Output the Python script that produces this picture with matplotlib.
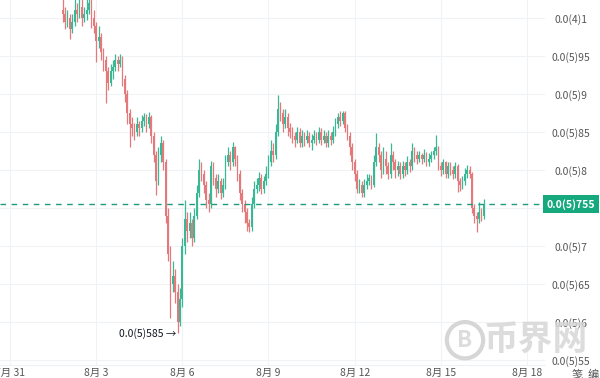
import numpy as np
import pandas as pd
import matplotlib
matplotlib.use('Agg')
import matplotlib.pyplot as plt
import matplotlib.dates as mdates

plt.rcParams['font.family'] = ['Noto Sans CJK SC', 'DejaVu Sans']

# 2-hour candles, values in units of 1e-6
start = '2024-08-01 20:00'
closes = [
    10.05, 9.95, 10.0, 9.85, 9.95, 10.1, 10.05, 10.15, 10.0, 10.05,
    10.1, 10.2, 10.0, 9.9, 9.7, 9.75, 9.55, 9.45, 9.3, 9.15,
    9.3, 9.35, 9.45, 9.4, 9.45, 9.2, 9.0, 8.75, 8.6, 8.55,
    8.5, 8.6, 8.55, 8.65, 8.7, 8.6, 8.7, 8.45, 8.2, 7.85,
    8.2, 8.35, 8.1, 7.4, 6.9, 6.5, 6.6, 6.4, 6.0, 6.3,
    7.0, 7.35, 7.2, 7.3, 7.1, 7.4, 7.7, 8.0, 7.95, 7.8,
    7.6, 7.55, 8.05, 7.9, 7.75, 7.85, 7.7, 7.8, 8.1, 8.2,
    8.1, 8.3, 8.15, 7.95, 7.7, 7.55, 7.45, 7.3, 7.25, 7.55,
    7.75, 7.8, 7.9, 7.75, 7.85, 7.95, 8.1, 8.25, 8.2, 8.5,
    8.8, 8.75, 8.6, 8.7, 8.55, 8.5, 8.45, 8.4, 8.5, 8.35,
    8.45, 8.4, 8.45, 8.35, 8.4, 8.45, 8.4, 8.5, 8.4, 8.45,
    8.35, 8.45, 8.4, 8.5, 8.6, 8.7, 8.65, 8.75, 8.55, 8.45,
    8.3, 8.1, 7.95, 7.75, 7.8, 7.7, 7.8, 7.85, 7.9, 7.8,
    8.1, 8.3, 8.2, 8.0, 8.15, 8.05, 7.95, 8.2, 8.1, 8.0,
    8.05, 7.95, 8.05, 8.0, 8.1, 8.05, 8.25, 8.2, 8.15, 8.2,
    8.15, 8.2, 8.1, 8.15, 8.2, 8.25, 8.3, 8.05, 8.0, 8.1,
    7.95, 8.05, 8.0, 7.95, 8.05, 7.85, 7.8, 7.85, 7.95, 8.0,
    7.95, 7.5, 7.4, 7.35, 7.45, 7.4, 7.55,
]
first_open = 10.1
highs = [
    10.3, 10.15, 10.1, 10.05, 10.05, 10.25, 10.2, 10.3, 10.25, 10.15,
    10.3, 10.35, 10.3, 10.1, 9.95, 9.9, 9.8, 9.6, 9.5, 9.35,
    9.4, 9.45, 9.52, 9.5, 9.52, 9.5, 9.25, 9.05, 8.8, 8.7,
    8.62, 8.7, 8.65, 8.72, 8.75, 8.74, 8.76, 8.72, 8.5, 8.25,
    8.3, 8.45, 8.4, 8.15, 7.5, 7.0, 6.8, 6.7, 6.5, 6.45,
    7.1, 7.6, 7.45, 7.45, 7.35, 7.5, 7.8, 8.15, 8.1, 8.0,
    7.85, 7.7, 8.12, 8.1, 7.95, 7.95, 7.9, 7.9, 8.2, 8.3,
    8.25, 8.37, 8.32, 8.2, 8.0, 7.75, 7.6, 7.5, 7.35, 7.65,
    7.85, 7.9, 7.98, 7.95, 7.92, 8.05, 8.2, 8.4, 8.35, 8.6,
    8.99, 8.9, 8.8, 8.8, 8.75, 8.62, 8.57, 8.5, 8.57, 8.55,
    8.52, 8.5, 8.52, 8.5, 8.47, 8.52, 8.5, 8.56, 8.55, 8.52,
    8.5, 8.52, 8.5, 8.58, 8.68, 8.75, 8.77, 8.78, 8.77, 8.6,
    8.5, 8.35, 8.15, 8.0, 7.88, 7.85, 7.88, 7.95, 7.95, 7.93,
    8.2, 8.49, 8.35, 8.25, 8.3, 8.25, 8.1, 8.35, 8.25, 8.15,
    8.12, 8.1, 8.12, 8.1, 8.18, 8.15, 8.35, 8.3, 8.25, 8.25,
    8.22, 8.27, 8.24, 8.22, 8.25, 8.3, 8.46, 8.32, 8.1, 8.15,
    8.12, 8.1, 8.1, 8.05, 8.1, 8.08, 7.9, 7.92, 8.02, 8.07,
    8.05, 7.97, 7.55, 7.45, 7.58, 7.5, 7.62,
]
lows = [
    9.95, 9.85, 9.88, 9.72, 9.8, 9.9, 9.95, 10.0, 9.9, 9.95,
    9.98, 10.05, 9.87, 9.8, 9.42, 9.6, 9.45, 9.3, 8.88, 9.05,
    9.1, 9.2, 9.3, 9.3, 9.35, 9.1, 8.9, 8.6, 8.3, 8.45,
    8.4, 8.45, 8.45, 8.5, 8.58, 8.5, 8.55, 8.35, 8.1, 7.67,
    7.8, 8.1, 8.0, 7.3, 6.8, 6.05, 6.4, 6.25, 5.85, 5.95,
    6.2, 6.9, 7.05, 7.1, 7.0, 7.05, 7.35, 7.65, 7.85, 7.7,
    7.5, 7.45, 7.5, 7.8, 7.65, 7.7, 7.62, 7.65, 7.75, 8.05,
    8.0, 8.05, 8.05, 7.85, 7.6, 7.45, 7.3, 7.2, 7.18, 7.2,
    7.5, 7.7, 7.72, 7.68, 7.7, 7.8, 7.9, 8.05, 8.1, 8.15,
    8.45, 8.65, 8.5, 8.55, 8.45, 8.42, 8.35, 8.3, 8.35, 8.3,
    8.3, 8.32, 8.35, 8.3, 8.26, 8.35, 8.33, 8.35, 8.33, 8.35,
    8.3, 8.3, 8.33, 8.35, 8.45, 8.55, 8.58, 8.6, 8.5, 8.4,
    8.2, 8.0, 7.85, 7.7, 7.7, 7.64, 7.65, 7.75, 7.8, 7.75,
    7.78, 8.05, 8.1, 7.9, 7.95, 7.95, 7.88, 7.9, 8.0, 7.9,
    7.92, 7.88, 7.9, 7.92, 7.95, 7.98, 8.0, 8.1, 8.08, 8.1,
    8.08, 8.1, 8.05, 8.05, 8.1, 8.15, 8.2, 8.0, 7.92, 7.95,
    7.9, 7.9, 7.93, 7.88, 7.9, 7.71, 7.72, 7.75, 7.8, 7.9,
    7.9, 7.43, 7.3, 7.18, 7.3, 7.33, 7.35,
]
tick_dates = ['2024-07-31', '2024-08-03', '2024-08-06', '2024-08-09',
              '2024-08-12', '2024-08-15', '2024-08-18']
tick_labels = ['7月 31', '8月 3', '8月 6', '8月 9', '8月 12', '8月 15', '8月 18']
y_ticks = [5.5, 6.0, 6.5, 7.0, 7.5, 8.0, 8.5, 9.0, 9.5, 10.0]
# the 7.5 label sits under the last-price box
y_labels = ['0.0(5)55', '0.0(5)6', '0.0(5)65', '0.0(5)7', '',
            '0.0(5)8', '0.0(5)85', '0.0(5)9', '0.0(5)95', '0.0(4)1']
last_price = 7.55
last_label = '0.0(5)755'
min_label = '0.0(5)585'

up_color = '#38b894'
down_color = '#e5787b'

times = pd.date_range(start, periods=len(closes), freq='2h')
x = mdates.date2num(times)
closes = np.array(closes)
opens = np.concatenate([[first_open], closes[:-1]])
highs = np.array(highs)
lows = np.array(lows)
up = closes >= opens
colors = np.where(up, up_color, down_color)

fig = plt.figure(figsize=(6, 3.78), dpi=100)
ax = fig.add_axes([0, 1 - 365 / 378, 545 / 600, 365 / 378])

day0 = mdates.date2num(pd.Timestamp('2024-07-31'))
ax.set_xlim(day0 - 10 / 28.72, day0 + 535 / 28.72)
ax.set_ylim(10 - 347 / 76, 10 + 18 / 76)

# candles
w = 0.7 / 12
ax.vlines(x, lows, highs, colors=colors, linewidth=0.9, zorder=2)
body = np.maximum(np.abs(closes - opens), 0.02)
ax.bar(x, body, bottom=np.minimum(opens, closes), width=w, color=colors,
       linewidth=0, zorder=3)

# axes and grid
ax.set_xticks(mdates.date2num(pd.to_datetime(tick_dates)))
ax.set_xticklabels(tick_labels)
ax.set_yticks(y_ticks)
ax.set_yticklabels(y_labels)
ax.grid(True, color='#f0f3f6', linewidth=0.8, zorder=0)
ax.yaxis.tick_right()
ax.tick_params(axis='y', length=0, pad=18.5, labelsize=7.5, labelcolor='#555555')
for lbl in ax.get_yticklabels():
    lbl.set_horizontalalignment('center')
ax.tick_params(axis='x', length=0, pad=2, labelsize=7.5, labelcolor='#555555')
for s in ['top', 'left', 'right']:
    ax.spines[s].set_visible(False)
ax.spines['bottom'].set_color('#eef0f3')
ax.spines['bottom'].set_linewidth(0.8)

# last price line and label
ax.axhline(last_price, color='#1f9a7d', linestyle=(0, (4, 4)), linewidth=1.0, zorder=4)
ax.text(1.0 + 26 / 545, last_price, last_label, transform=ax.get_yaxis_transform(),
        ha='center', va='center', fontsize=7.5, color='white', fontweight='bold',
        bbox=dict(boxstyle='square,pad=0.35', facecolor='#15a97d', edgecolor='none'),
        clip_on=False, zorder=5)

# min annotation
i_min = int(np.argmin(lows))
ax.text(x[i_min] - 0.05, lows[i_min], min_label + ' \u2192', ha='right', va='center',
        fontsize=7.5, color='#131722', zorder=5)

# watermark
fig.text(0.893, 0.1, '币界网', ha='center', va='center',
         fontsize=25, fontweight='bold', color='#d6d6d6', alpha=0.85, zorder=1)
fig.text(0.775, 0.1, 'B', ha='center', va='center',
         fontsize=16, fontweight='bold', color='#d6d6d6', alpha=0.85, zorder=1,
         bbox=dict(boxstyle='circle,pad=0.3', facecolor='none', edgecolor='#d6d6d6',
                   linewidth=3))
fig.text(0.998, -0.006, '笺  编', ha='right', va='bottom', fontsize=8, color='#555555')

fig.savefig('out.png', dpi=100)
